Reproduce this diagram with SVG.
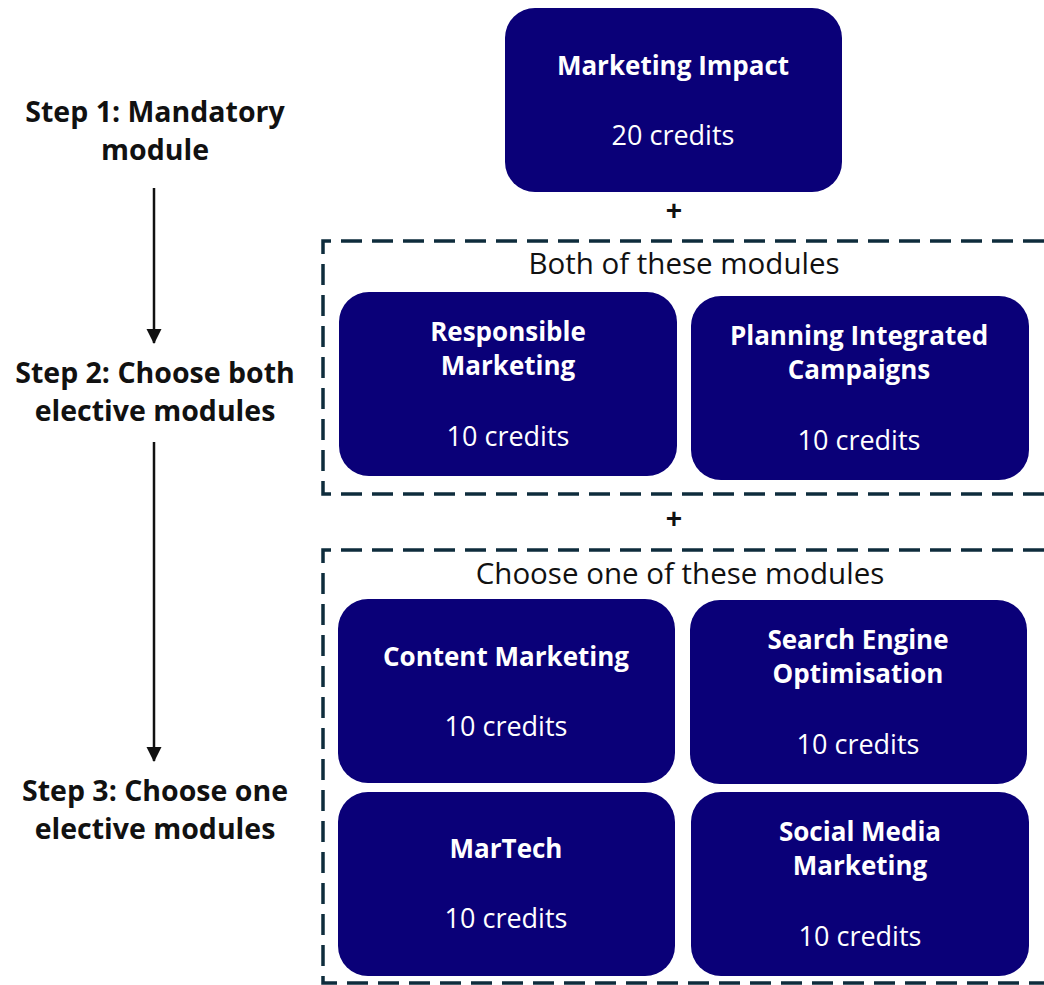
<svg xmlns="http://www.w3.org/2000/svg" width="1044" height="985" viewBox="0 0 1044 985">
<style>
.node rect{fill:#0a0078;}
.t{font-family:"Open Sans","Liberation Sans",sans-serif;font-weight:bold;font-size:26px;fill:#ffffff;text-anchor:middle;}
.c{font-family:"Open Sans","Liberation Sans",sans-serif;font-size:27px;fill:#ffffff;text-anchor:middle;}
.step{font-family:"Open Sans","Liberation Sans",sans-serif;font-weight:bold;font-size:28.5px;fill:#111111;text-anchor:middle;}
.grp{fill:none;stroke:#0e2c3c;stroke-width:3.5;stroke-dasharray:21 10;}
.gl{font-family:"Open Sans","Liberation Sans",sans-serif;font-size:29.5px;fill:#111111;text-anchor:middle;}
.plus{font-family:"Liberation Sans",sans-serif;font-weight:bold;font-size:28px;fill:#111111;text-anchor:middle;}
.arr{stroke:#111111;stroke-width:2.5;fill:none;marker-end:url(#ah);}
</style>
<defs>
<marker id="ah" markerWidth="16" markerHeight="16" refX="14" refY="7.5" orient="auto" markerUnits="userSpaceOnUse">
<path d="M0,0 L15,7.5 L0,15 z" fill="#111111"/>
</marker>
</defs>
<rect width="1044" height="985" fill="#ffffff"/>

<g id="steps">
<text class="step" x="155" y="122">Step 1: Mandatory</text>
<text class="step" x="155" y="160">module</text>
<text class="step" x="155" y="383">Step 2: Choose both</text>
<text class="step" x="155" y="421">elective modules</text>
<text class="step" x="155" y="801">Step 3: Choose one</text>
<text class="step" x="155" y="839">elective modules</text>
</g>

<g id="connectors">
<line class="arr" x1="154" y1="188" x2="154" y2="343"/>
<line class="arr" x1="154" y1="442" x2="154" y2="761"/>
</g>

<g id="group-both">
<path class="grp" d="M1044,241 L323,241 L323,494 L1044,494"/>
<text class="gl" x="684" y="274">Both of these modules</text>
</g>
<g id="group-one">
<path class="grp" d="M1044,550 L323,550 L323,983 L1044,983"/>
<text class="gl" x="680" y="584">Choose one of these modules</text>
</g>

<text class="plus" x="674" y="220">+</text>
<text class="plus" x="674" y="528">+</text>

<g id="marketing-impact" class="node">
<rect x="505" y="8" width="337" height="184" rx="30"/>
<text class="t" x="673" y="75">Marketing Impact</text>
<text class="c" x="673" y="145">20 credits</text>
</g>

<g id="responsible-marketing" class="node">
<rect x="339" y="292" width="338" height="184" rx="30"/>
<text class="t" x="508" y="341">Responsible</text>
<text class="t" x="508" y="375">Marketing</text>
<text class="c" x="508" y="446">10 credits</text>
</g>

<g id="planning-integrated" class="node">
<rect x="691" y="296" width="338" height="184" rx="30"/>
<text class="t" x="859" y="345">Planning Integrated</text>
<text class="t" x="859" y="379">Campaigns</text>
<text class="c" x="859" y="450">10 credits</text>
</g>

<g id="content-marketing" class="node">
<rect x="338" y="599" width="337" height="184" rx="30"/>
<text class="t" x="506" y="666">Content Marketing</text>
<text class="c" x="506" y="736">10 credits</text>
</g>

<g id="seo" class="node">
<rect x="690" y="600" width="337" height="184" rx="30"/>
<text class="t" x="858" y="649">Search Engine</text>
<text class="t" x="858" y="683">Optimisation</text>
<text class="c" x="858" y="754">10 credits</text>
</g>

<g id="martech" class="node">
<rect x="338" y="792" width="337" height="184" rx="30"/>
<text class="t" x="506" y="858">MarTech</text>
<text class="c" x="506" y="928">10 credits</text>
</g>

<g id="social-media" class="node">
<rect x="691" y="792" width="338" height="184" rx="30"/>
<text class="t" x="860" y="841">Social Media</text>
<text class="t" x="860" y="875">Marketing</text>
<text class="c" x="860" y="946">10 credits</text>
</g>
</svg>
